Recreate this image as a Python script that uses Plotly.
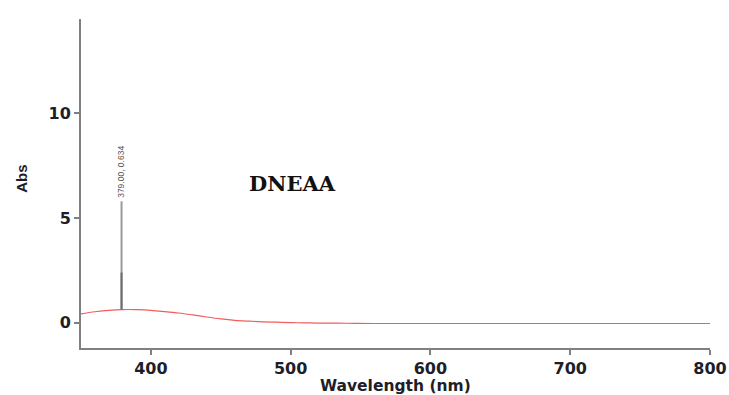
import plotly.graph_objects as go

wavelength = [350, 360, 370, 380, 390, 400, 410, 420, 430, 440, 450, 460, 470, 480,
              490, 500, 510, 520, 540, 560, 600, 650, 700, 750, 800]
absorbance = [0.43, 0.53, 0.60, 0.634, 0.63, 0.60, 0.54, 0.47, 0.38, 0.28, 0.19, 0.12,
              0.08, 0.05, 0.03, 0.01, 0.0, -0.01, -0.02, -0.03, -0.03, -0.03, -0.03, -0.03, -0.03]

peak_wl = 379
peak_abs = 0.634
marker_mid = 2.4
marker_top = 5.8
peak_label = "379.00, 0.634"
sample_name = "DNEAA"

x_ticks = [400, 500, 600, 700, 800]
y_ticks = [0, 5, 10]

fig = go.Figure()
fig.add_trace(go.Scatter(x=wavelength, y=absorbance, mode="lines",
                         line=dict(color="#f25c5c", width=1.2, shape="spline"),
                         showlegend=False, hoverinfo="skip"))
fig.add_trace(go.Scatter(x=[peak_wl, peak_wl], y=[peak_abs, marker_top], mode="lines",
                         line=dict(color="#9a9a9a", width=2),
                         showlegend=False, hoverinfo="skip"))
fig.add_trace(go.Scatter(x=[peak_wl, peak_wl], y=[peak_abs, marker_mid], mode="lines",
                         line=dict(color="#6e6e6e", width=2),
                         showlegend=False, hoverinfo="skip"))
fig.add_annotation(x=peak_wl, y=marker_top, text=peak_label, textangle=-90,
                   showarrow=False, yanchor="bottom", xanchor="center", yshift=1,
                   font=dict(family="Liberation Sans", size=8.5, color="#555555"))
fig.add_annotation(x=0.337, xref="paper", y=0.50, yref="paper", text=sample_name, showarrow=False,
                   xanchor="center", yanchor="middle",
                   font=dict(family="DejaVu Serif", size=21, color="#111111", weight="bold"))

tick_font = dict(family="DejaVu Sans", size=16, color="#1e1e28", weight="bold")
axis_common = dict(showline=True, linecolor="#808080", linewidth=2, ticks="outside",
                   ticklen=5, tickcolor="#808080", tickwidth=1.5, showgrid=False, zeroline=False,
                   tickfont=tick_font, automargin=False)

fig.update_layout(
    width=729, height=395,
    margin=dict(l=81, r=19, t=19, b=47),
    paper_bgcolor="white", plot_bgcolor="white",
    xaxis=dict(range=[350, 800], tickvals=x_ticks, **axis_common),
    yaxis=dict(range=[-1.2, 14.5], tickvals=y_ticks, **axis_common),
)
fig.add_annotation(x=0.5, xref="paper", y=-0.1155, yref="paper", yanchor="middle",
                   text="Wavelength (nm)", showarrow=False,
                   font=dict(family="DejaVu Sans", size=15.5, color="#1e1e28", weight="bold"))
fig.add_annotation(x=-0.094, xref="paper", y=0.514, yref="paper", xanchor="center", yanchor="middle",
                   text="Abs", showarrow=False, textangle=-90,
                   font=dict(family="Liberation Sans", size=15, color="#1e1e28", weight="bold"))
fig.write_html("out.html", config={"displayModeBar": False},
               post_script="document.body.style.margin='0';document.body.style.overflow='hidden';")
